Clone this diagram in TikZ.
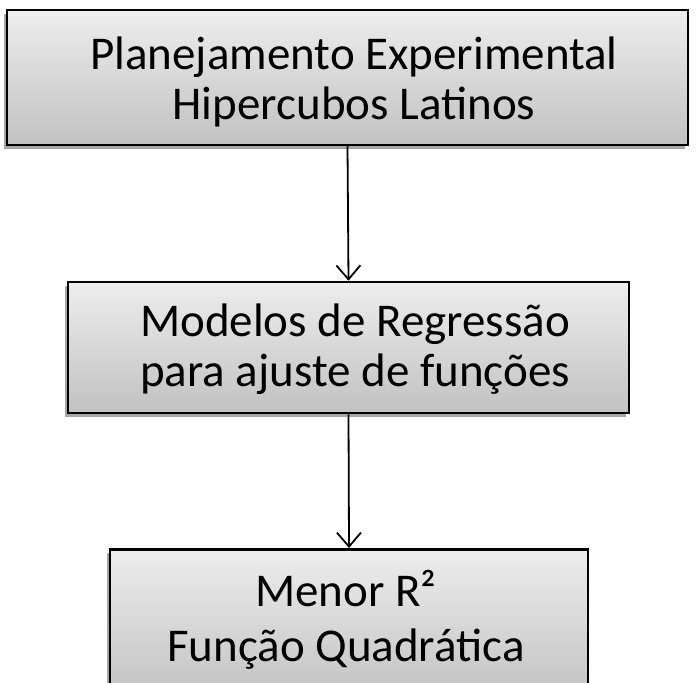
\documentclass[tikz,border=0pt]{standalone}
\usepackage{fontspec}
\setmainfont{Carlito}
\usetikzlibrary{shadows,arrows.meta}
\begin{document}
\begin{tikzpicture}[x=1pt,y=-1pt,
  box/.style={draw=black,line width=2.5pt,top color=white!93!black,bottom color=white!76!black,
    drop shadow={shadow xshift=-3pt,shadow yshift=-4pt,opacity=0.35,fill=black},
    align=center,inner sep=0pt},
  txt/.style={align=center,inner sep=0pt,font=\fontsize{47}{50}\selectfont},
  conn/.style={line width=1.8pt,-{Straight Barb[length=14pt,width=24pt,line width=1.8pt]}}]
\useasboundingbox (0,0) rectangle (698,682);
\node[box,minimum width=681pt,minimum height=135pt] (a) at (347.5,77.5) {};
\node[txt] (at) at (354,82) {Planejamento Experimental\\Hipercubos Latinos};
\node[box,minimum width=561pt,minimum height=131pt] (b) at (348.5,347.5) {};
\node[txt] (bt) at (355,349) {Modelos de Regressão\\para ajuste de funções};
\node[box,minimum width=478pt,minimum height=150pt,anchor=north] (c) at (349,548) {};
\node[txt,font=\fontsize{47}{55}\selectfont] (ct) at (346,620) {Menor R²\\Função Quadrática};
\draw[conn] (a.south) -- (b.north);
\draw[conn] (b.south) -- (c.north);
\end{tikzpicture}
\end{document}
